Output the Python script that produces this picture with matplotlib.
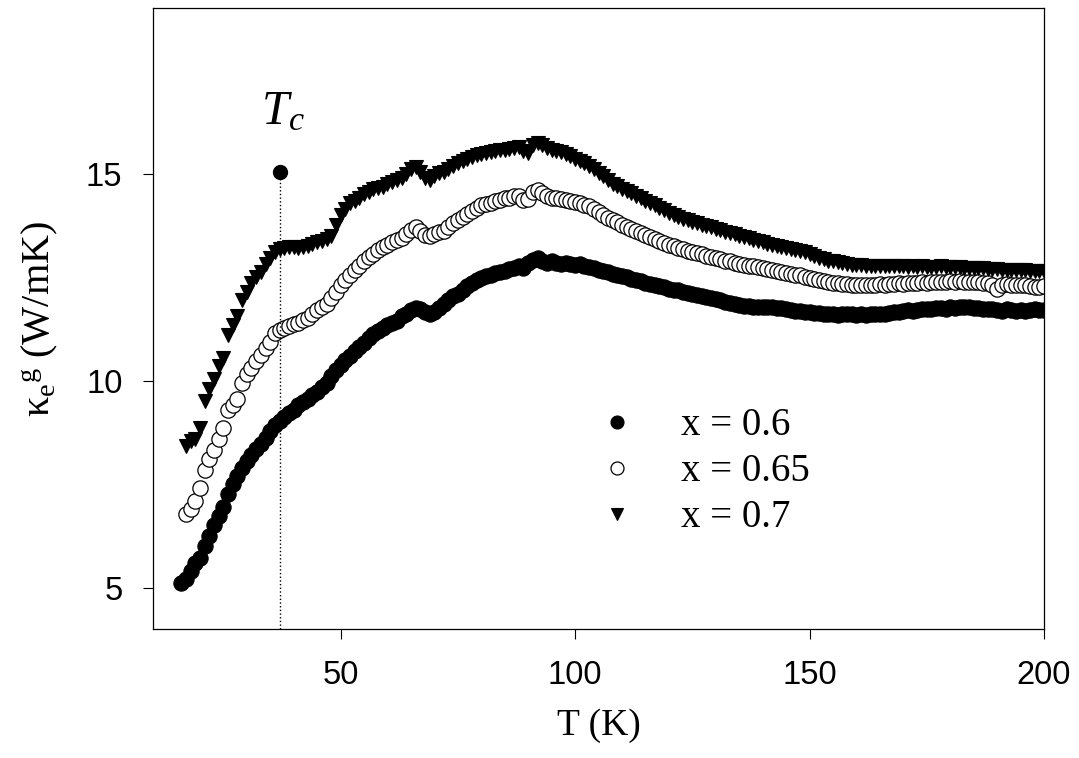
import matplotlib
matplotlib.use('Agg')
import matplotlib.pyplot as plt

plt.rcParams['mathtext.fontset'] = 'custom'
plt.rcParams['mathtext.rm'] = 'Liberation Serif'
plt.rcParams['mathtext.it'] = 'Liberation Serif:italic'

# Temperature grid (K)
T = [16, 17, 18, 19, 20, 21, 22, 23, 24, 25, 26, 27, 28, 29, 30, 31, 32, 33, 34, 35,
     36, 37, 38, 39, 40, 41, 42, 43, 44, 45, 46, 47, 48, 49, 50, 51, 52, 53, 54, 55,
     56, 57, 58, 59, 60, 61, 62, 63, 64, 65, 66, 67, 68, 69, 70, 71, 72, 73, 74, 75,
     76, 77, 78, 79, 80, 81, 82, 83, 84, 85, 86, 87, 88, 89, 90, 91, 92, 93, 94, 95,
     96, 97, 98, 99, 100, 101, 102, 103, 104, 105, 106, 107, 108, 109, 110, 111, 112, 113, 114, 115,
     116, 117, 118, 119, 120, 121, 122, 123, 124, 125, 126, 127, 128, 129, 130, 131, 132, 133, 134, 135,
     136, 137, 138, 139, 140, 141, 142, 143, 144, 145, 146, 147, 148, 149, 150, 151, 152, 153, 154, 155,
     156, 157, 158, 159, 160, 161, 162, 163, 164, 165, 166, 167, 168, 169, 170, 171, 172, 173, 174, 175,
     176, 177, 178, 179, 180, 181, 182, 183, 184, 185, 186, 187, 188, 189, 190, 191, 192, 193, 194, 195,
     196, 197, 198, 199, 200]

# x = 0.6 (starts at 16 K)
k_060 = [5.12, 5.2, 5.4, 5.6, 5.72, 6.0, 6.25, 6.5, 6.72, 6.95, 7.25, 7.5, 7.7, 7.9, 8.05, 8.2, 8.35, 8.48, 8.62, 8.78,
         8.92, 9.02, 9.12, 9.22, 9.3, 9.4, 9.48, 9.55, 9.65, 9.72, 9.85, 9.95, 10.1, 10.25, 10.38, 10.5, 10.6, 10.72, 10.82, 10.92,
         11.02, 11.12, 11.2, 11.28, 11.35, 11.4, 11.45, 11.55, 11.62, 11.7, 11.75, 11.72, 11.65, 11.6, 11.65, 11.75, 11.85, 11.95, 12.05, 12.1,
         12.2, 12.28, 12.35, 12.42, 12.48, 12.52, 12.56, 12.6, 12.62, 12.65, 12.7, 12.73, 12.78, 12.72, 12.85, 12.92, 12.95, 12.88, 12.85, 12.88,
         12.85, 12.82, 12.85, 12.82, 12.8, 12.82, 12.78, 12.75, 12.72, 12.68, 12.65, 12.62, 12.58, 12.55, 12.52, 12.5, 12.46, 12.42, 12.4, 12.36,
         12.33, 12.3, 12.28, 12.25, 12.22, 12.2, 12.18, 12.15, 12.12, 12.1, 12.08, 12.05, 12.03, 12.0, 11.97, 11.94, 11.9, 11.87, 11.85, 11.82,
         11.8, 11.8, 11.78, 11.78, 11.77, 11.78, 11.77, 11.76, 11.75, 11.72, 11.7, 11.68, 11.67, 11.66, 11.65, 11.64, 11.64, 11.62, 11.6, 11.6,
         11.58, 11.6, 11.62, 11.6, 11.58, 11.6, 11.58, 11.6, 11.62, 11.6, 11.62, 11.64, 11.66, 11.65, 11.68, 11.7, 11.68, 11.7, 11.72, 11.74,
         11.72, 11.75, 11.76, 11.74, 11.77, 11.76, 11.78, 11.77, 11.78, 11.76, 11.75, 11.74, 11.73, 11.72, 11.7, 11.68, 11.72, 11.7, 11.68, 11.7,
         11.68, 11.7, 11.72, 11.7, 11.7]

# x = 0.65 (starts at 17 K)
k_065 = [6.78, 6.9, 7.1, 7.4, 7.85, 8.1, 8.32, 8.6, 8.85, 9.3, 9.42, 9.55, 9.95, 10.15, 10.3, 10.48, 10.62, 10.78, 10.94,
         11.15, 11.22, 11.27, 11.32, 11.36, 11.4, 11.46, 11.52, 11.6, 11.7, 11.78, 11.85, 12.0, 12.15, 12.3, 12.42, 12.55, 12.67, 12.78, 12.88,
         12.98, 13.07, 13.15, 13.22, 13.28, 13.34, 13.39, 13.45, 13.55, 13.65, 13.7, 13.62, 13.52, 13.5, 13.55, 13.58, 13.62, 13.7, 13.8, 13.88,
         13.95, 14.02, 14.1, 14.18, 14.23, 14.27, 14.3, 14.33, 14.36, 14.4, 14.42, 14.45, 14.47, 14.36, 14.38, 14.55, 14.6, 14.52, 14.45, 14.42,
         14.4, 14.38, 14.37, 14.35, 14.32, 14.3, 14.25, 14.22, 14.15, 14.08, 14.0, 13.93, 13.87, 13.82, 13.76, 13.7, 13.66, 13.61, 13.56, 13.51,
         13.46, 13.42, 13.37, 13.33, 13.28, 13.24, 13.2, 13.17, 13.14, 13.11, 13.08, 13.05, 13.02, 12.99, 12.96, 12.93, 12.9, 12.88, 12.85, 12.82,
         12.8, 12.78, 12.76, 12.74, 12.72, 12.7, 12.67, 12.64, 12.62, 12.6, 12.58, 12.56, 12.54, 12.5, 12.48, 12.45, 12.42, 12.4, 12.38, 12.36,
         12.35, 12.34, 12.33, 12.32, 12.32, 12.3, 12.31, 12.3, 12.32, 12.33, 12.32, 12.34, 12.33, 12.35, 12.34, 12.36, 12.35, 12.36, 12.37, 12.36,
         12.38, 12.37, 12.39, 12.38, 12.4, 12.39, 12.4, 12.38, 12.39, 12.37, 12.38, 12.36, 12.35, 12.3, 12.22, 12.3, 12.33, 12.32, 12.3, 12.31,
         12.3, 12.29, 12.25, 12.27, 12.28]

# x = 0.7 (starts at 17 K)
k_070 = [8.42, 8.55, 8.6, 8.85, 9.5, 9.8, 10.05, 10.35, 10.55, 11.1, 11.35, 11.55, 11.95, 12.15, 12.35, 12.5, 12.62, 12.82, 12.95,
         13.1, 13.18, 13.2, 13.23, 13.22, 13.2, 13.22, 13.26, 13.3, 13.34, 13.38, 13.42, 13.5, 13.75, 14.0, 14.15, 14.28, 14.35, 14.42, 14.5,
         14.55, 14.62, 14.65, 14.68, 14.75, 14.8, 14.85, 14.9, 15.0, 15.1, 15.15, 15.05, 14.9, 14.85, 14.95, 15.02, 15.05, 15.1, 15.18, 15.25,
         15.3, 15.35, 15.4, 15.44, 15.48, 15.5, 15.52, 15.55, 15.56, 15.58, 15.6, 15.62, 15.64, 15.55, 15.5, 15.7, 15.74, 15.7, 15.62, 15.58,
         15.55, 15.52, 15.48, 15.42, 15.36, 15.3, 15.25, 15.18, 15.1, 15.02, 14.95, 14.85, 14.76, 14.7, 14.63, 14.57, 14.52, 14.46, 14.4, 14.35,
         14.3, 14.24, 14.18, 14.12, 14.06, 14.0, 13.95, 13.91, 13.87, 13.84, 13.8, 13.77, 13.74, 13.71, 13.67, 13.63, 13.6, 13.56, 13.53, 13.5,
         13.47, 13.44, 13.4, 13.37, 13.34, 13.31, 13.28, 13.25, 13.22, 13.2, 13.18, 13.15, 13.12, 13.1, 13.07, 13.02, 12.97, 12.93, 12.9, 12.88,
         12.86, 12.84, 12.82, 12.8, 12.8, 12.79, 12.78, 12.78, 12.77, 12.78, 12.77, 12.76, 12.77, 12.76, 12.76, 12.75, 12.76, 12.75, 12.76, 12.75,
         12.74, 12.75, 12.76, 12.75, 12.74, 12.75, 12.74, 12.73, 12.73, 12.72, 12.72, 12.71, 12.7, 12.7, 12.69, 12.68, 12.68, 12.67, 12.67, 12.66,
         12.66, 12.65, 12.65, 12.64, 12.64]

labels = ['x = 0.6', 'x = 0.65', 'x = 0.7']

Tc = 37
Tc_value = 15.05

fig = plt.figure(figsize=(10.79, 7.58), dpi=100)
ax = fig.add_axes([0.1418, 0.1702, 0.8258, 0.8192])

ax.plot(T, k_060, linestyle='none', marker='o', ms=11, mfc='black', mec='black', mew=0.8, label=labels[0])
ax.plot(T[1:], k_065, linestyle='none', marker='o', ms=11, mfc='white', mec='black', mew=0.9, label=labels[1])
ax.plot(T[1:], k_070, linestyle='none', marker='v', ms=10.5, mfc='black', mec='black', mew=0.8, label=labels[2])

# Tc marker
ax.plot([Tc, Tc], [4, Tc_value], linestyle=':', color='black', lw=1)
ax.plot([Tc], [Tc_value], marker='o', ms=10, color='black', linestyle='none')
ax.text(Tc + 0.8, 16.2, r'$T_c$', fontsize=35, ha='center', va='baseline')

ax.set_xlim(10, 200)
ax.set_ylim(4, 19)
ax.set_xticks([50, 100, 150, 200])
ax.set_yticks([5, 10, 15])
ax.tick_params(direction='out', length=7, width=0.8, pad=15, labelsize=23.5)
for lab in ax.get_xticklabels() + ax.get_yticklabels():
    lab.set_fontfamily('Liberation Sans')
for sp in ax.spines.values():
    sp.set_linewidth(0.9)

ax.set_xlabel('T (K)', fontsize=27, family='Liberation Serif', labelpad=13)
ax.set_ylabel(r'$\mathrm{\kappa_e{}^g}$ (W/mK)', fontsize=29, family='Liberation Serif', labelpad=19)

leg = ax.legend(loc='upper left', bbox_to_anchor=(0.499, 0.357), frameon=False,
                prop={'family': 'Liberation Serif', 'size': 28},
                markerscale=0.85, handlelength=1.0, handletextpad=1.15,
                labelspacing=0.23, borderpad=0, borderaxespad=0)

plt.savefig('out.png', dpi=100)
